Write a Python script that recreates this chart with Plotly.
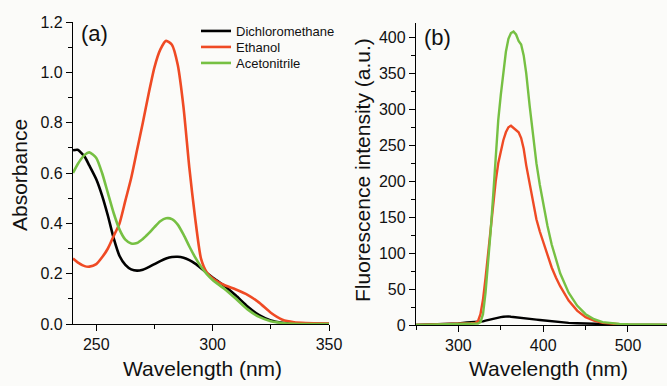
import plotly.graph_objects as go

# ---------------- data ----------------
abs_wavelength = [240, 242, 245, 247, 250, 252.5, 255, 257.5, 260, 262.5, 265, 267.5, 270, 272.5,
                  275, 277.5, 280, 282.5, 285, 287.5, 290, 292.5, 295, 297.5, 300, 305, 310, 315,
                  320, 325, 330, 335, 340, 350]
abs_dcm = [0.69, 0.692, 0.665, 0.63, 0.575, 0.51, 0.43, 0.34, 0.27, 0.235, 0.217, 0.212, 0.216, 0.226,
           0.238, 0.25, 0.26, 0.266, 0.267, 0.263, 0.254, 0.24, 0.222, 0.203, 0.185, 0.152, 0.113, 0.07,
           0.035, 0.014, 0.005, 0.002, 0.001, 0.0]
abs_etoh = [0.26, 0.245, 0.23, 0.228, 0.238, 0.265, 0.30, 0.35, 0.40, 0.49, 0.58, 0.69, 0.80, 0.915,
            1.02, 1.09, 1.125, 1.11, 1.03, 0.86, 0.62, 0.42, 0.26, 0.205, 0.182, 0.155, 0.137, 0.116,
            0.085, 0.045, 0.017, 0.007, 0.004, 0.002]
abs_mecn = [0.60, 0.635, 0.672, 0.682, 0.66, 0.60, 0.52, 0.44, 0.375, 0.335, 0.32, 0.322, 0.338, 0.36,
            0.385, 0.408, 0.42, 0.417, 0.395, 0.355, 0.308, 0.265, 0.228, 0.198, 0.175, 0.14, 0.10, 0.058,
            0.028, 0.011, 0.004, 0.001, 0.0, 0.0]

fl_wavelength = [250, 270, 290, 300, 310, 315, 320, 323, 326, 329, 332, 335, 338, 341, 344, 347, 350,
                 353, 356, 359, 362, 365, 368, 371, 374, 377, 380, 384, 388, 392, 396, 400, 405, 410,
                 415, 420, 430, 440, 450, 460, 470, 480, 490, 500, 520, 550]
fl_dcm = [0, 0.5, 1, 2, 3.5, 4, 3.5, 4, 4.5, 5, 6, 7, 8, 9, 10, 10.5, 11, 11.5, 12, 12, 11.5, 11, 11,
          10.5, 10, 9.5, 9, 8.5, 8, 7.5, 7, 6.5, 5.5, 5, 4.5, 4, 3, 2.5, 2, 1.5, 1, 0.8, 0.5, 0.3, 0.2, 0.1]
fl_etoh = [0, 0.5, 1, 1.5, 2, 2.5, 3, 5, 15, 35, 65, 100, 135, 170, 200, 225, 243, 257, 268, 275, 277,
           274, 271, 268, 260, 245, 222, 195, 168, 147, 130, 115, 97, 80, 66, 54, 34, 20, 11, 6, 3, 1.5,
           1, 0.5, 0.3, 0.2]
fl_mecn = [0, 0.5, 1, 1, 1.5, 2, 2, 2, 4, 15, 45, 85, 130, 180, 235, 285, 320, 355, 380, 398, 406, 408,
           404, 395, 390, 375, 350, 305, 262, 225, 195, 168, 138, 112, 90, 72, 45, 27, 15, 8, 4, 2.5, 1.5,
           1, 0.5, 0.3]

series_names = ["Dichloromethane", "Ethanol", "Acetonitrile"]
series_colors = ["#000000", "#ef4a24", "#76c043"]
legend_ids = ["legend", "legend2", "legend3"]

# ---------------- figure ----------------
W, H = 667, 386
fig = go.Figure()

for name, color, ys, lg in zip(series_names, series_colors, [abs_dcm, abs_etoh, abs_mecn], legend_ids):
    fig.add_trace(go.Scatter(x=abs_wavelength, y=ys, mode="lines", name=name, legend=lg,
                             line=dict(color=color, width=2.6, shape="spline", smoothing=0.6),
                             xaxis="x", yaxis="y"))
for name, color, ys in zip(series_names, series_colors, [fl_dcm, fl_etoh, fl_mecn]):
    fig.add_trace(go.Scatter(x=fl_wavelength, y=ys, mode="lines", name=name, showlegend=False,
                             line=dict(color=color, width=2.4),
                             xaxis="x2", yaxis="y2"))

font_family = "Liberation Sans, Arial, sans-serif"
axis_common = dict(showline=True, linecolor="black", linewidth=1.3, ticks="outside", ticklen=6,
                   tickwidth=1.2, tickcolor="black", showgrid=False, zeroline=False, automargin=False,
                   tickfont=dict(family=font_family, size=16, color="#111"))
minor_common = dict(ticks="outside", ticklen=3.5, tickwidth=1.1, tickcolor="black")

legend_font = dict(family=font_family, size=13, color="#111")
legend_rows = [31, 47, 63]

fig.update_layout(
    width=W, height=H,
    margin=dict(l=0, r=0, t=0, b=0),
    paper_bgcolor="#fbfbf9", plot_bgcolor="#fbfbf9",
    font=dict(family=font_family, color="#111"),
    xaxis=dict(domain=[73 / W, 329 / W], range=[240, 350], tick0=250, dtick=50,
               minor=dict(dtick=25, **minor_common), anchor="y", **axis_common),
    yaxis=dict(domain=[1 - 324 / H, 1 - 22 / H], range=[0, 1.2], dtick=0.2, tickformat=".1f",
               minor=dict(dtick=0.1, **minor_common), anchor="x", **axis_common),
    xaxis2=dict(domain=[416 / W, 1.0], range=[250, 546], tick0=300, dtick=100,
                minor=dict(dtick=50, **minor_common), anchor="y2", **axis_common),
    yaxis2=dict(domain=[1 - 325 / H, 1 - 23 / H], range=[0, 420], dtick=50,
                minor=dict(dtick=25, **minor_common), anchor="x2", **axis_common),
    showlegend=True,
)
for lg, row in zip(legend_ids, legend_rows):
    fig.update_layout({lg: dict(x=196 / W, y=1 - row / H, xanchor="left", yanchor="middle",
                                bgcolor="rgba(0,0,0,0)", font=legend_font, itemwidth=30,
                                borderwidth=0)})

title_font = dict(family=font_family, size=21, color="#111")
fig.add_annotation(text="Absorbance", x=19 / W, y=1 - 175 / H, xref="paper", yref="paper",
                   textangle=-90, showarrow=False, font=title_font, xanchor="center", yanchor="middle")
fig.add_annotation(text="Wavelength (nm)", x=202 / W, y=1 - 368 / H, xref="paper", yref="paper",
                   showarrow=False, font=title_font, xanchor="center", yanchor="middle")
fig.add_annotation(text="Fluorescence intensity (a.u.)", x=362 / W, y=1 - 170 / H, xref="paper",
                   yref="paper", textangle=-90, showarrow=False, font=title_font,
                   xanchor="center", yanchor="middle")
fig.add_annotation(text="Wavelength (nm)", x=548 / W, y=1 - 368 / H, xref="paper", yref="paper",
                   showarrow=False, font=title_font, xanchor="center", yanchor="middle")
fig.add_annotation(text="(a)", x=94 / W, y=1 - 34 / H, xref="paper", yref="paper",
                   showarrow=False, font=dict(family=font_family, size=22, color="#111"),
                   xanchor="center", yanchor="middle")
fig.add_annotation(text="(b)", x=437 / W, y=1 - 37 / H, xref="paper", yref="paper",
                   showarrow=False, font=dict(family=font_family, size=22, color="#111"),
                   xanchor="center", yanchor="middle")

fig.write_html("out.html",
               config={"displayModeBar": False},
               post_script="document.body.style.margin='0';document.body.style.padding='0';"
                           "document.body.style.background='#fbfbf9';")
